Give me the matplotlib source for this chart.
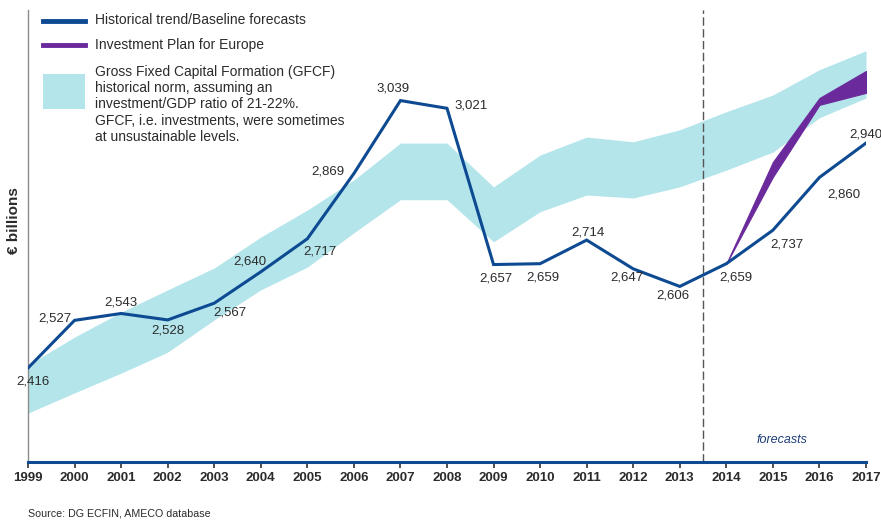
import matplotlib.pyplot as plt
from matplotlib.lines import Line2D
from matplotlib.patches import Rectangle

plt.rcParams["font.family"] = ["Liberation Sans", "DejaVu Sans"]

# EU gross fixed capital formation, EUR billions
years = list(range(1999, 2018))
gfcf = [2416, 2527, 2543, 2528, 2567, 2640, 2717, 2869, 3039, 3021,
        2657, 2659, 2714, 2647, 2606, 2659, 2737, 2860, 2940]

# historical norm band (21-22% of GDP)
norm_low = [2311, 2358, 2404, 2453, 2528, 2598, 2651, 2731, 2808, 2808,
            2710, 2780, 2819, 2812, 2838, 2877, 2919, 2999, 3045]
norm_high = [2423, 2488, 2546, 2598, 2649, 2721, 2784, 2854, 2940, 2940,
             2838, 2912, 2954, 2943, 2971, 3013, 3052, 3111, 3155]

# Investment Plan for Europe scenario
plan_years = [2014, 2015, 2016, 2017]
plan_low = [2659, 2861, 3029, 3057]
plan_high = [2659, 2896, 3045, 3108]

# label offsets in pixels (dx, dy)
label_offsets = [(5, -14), (-20, 2), (0, 11), (0, -11), (16, -9), (-11, 10),
                 (13, -13), (-26, 2), (-7, 12), (24, 3), (2, -14), (3, -14),
                 (1, 8), (-6, -9), (-7, -9), (10, -14), (14, -14), (24, -17),
                 (0, 9)]

BLUE = "#0d4a92"
PURPLE = "#6b2a9c"
CYAN = "#b3e5eb"
TEXT = "#2b2b2b"

W, H = 881, 520
fig = plt.figure(figsize=(W / 100, H / 100), dpi=100)
ax = fig.add_axes([28 / W, 1 - 462 / H, (866 - 28) / W, (462 - 10) / H])

ax.fill_between(years, norm_low, norm_high, color=CYAN, lw=0, zorder=1)
ax.fill_between(plan_years, plan_low, plan_high, color=PURPLE, lw=0.8,
                edgecolor=PURPLE, zorder=2)
ax.plot(years, gfcf, color=BLUE, lw=2.2, solid_joinstyle="miter", zorder=3)

for x, v, (dx, dy) in zip(years, gfcf, label_offsets):
    ax.annotate(f"{v:,}", (x, v), xytext=(dx, dy), textcoords="offset pixels",
                ha="center", va="center", fontsize=9.5, color=TEXT,
                annotation_clip=False, zorder=4)

ax.axvline(2013.5, color="#555555", lw=1, ls=(0, (6, 2.5)), zorder=2)
ax.text(2015.2, 2248, "forecasts", fontsize=9, style="italic", color="#1f3f7a",
        ha="center", va="center")

ax.set_xlim(1999, 2017)
ax.set_ylim(2197, 3250)
ax.set_xticks(years)
ax.set_xticklabels([str(y) for y in years], fontsize=9.5, fontweight="bold",
                   color=TEXT)
ax.tick_params(axis="x", direction="out", length=4, width=1.2, color="#333333",
               pad=3)
ax.set_yticks([])
for side in ("top", "right"):
    ax.spines[side].set_visible(False)
ax.spines["left"].set_color("#8c8c8c")
ax.spines["left"].set_linewidth(1)
ax.spines["bottom"].set_color(BLUE)
ax.spines["bottom"].set_linewidth(2.2)
ax.set_ylabel("€ billions", fontsize=11, fontweight="bold", color=TEXT)
ax.yaxis.set_label_coords(-0.008, 0.535)

# legend drawn by hand in figure pixels
def fx(px):
    return px / W


def fy(py):
    return 1 - py / H


fig.add_artist(Line2D([fx(43), fx(85)], [fy(21), fy(21)], color=BLUE, lw=3.5))
fig.add_artist(Line2D([fx(43), fx(85)], [fy(45), fy(45)], color=PURPLE, lw=3.5))
fig.add_artist(Rectangle((fx(43), fy(109)), fx(85) - fx(43), fy(74) - fy(109),
                         transform=fig.transFigure, color=CYAN, lw=0))
fig.text(fx(95), fy(20), "Historical trend/Baseline forecasts", fontsize=10,
         color=TEXT, va="center")
fig.text(fx(95), fy(45), "Investment Plan for Europe", fontsize=10,
         color=TEXT, va="center")
fig.text(fx(95), fy(65),
         "Gross Fixed Capital Formation (GFCF)\n"
         "historical norm, assuming an\n"
         "investment/GDP ratio of 21-22%.\n"
         "GFCF, i.e. investments, were sometimes\n"
         "at unsustainable levels.",
         fontsize=10, color=TEXT, va="top", linespacing=1.2)

fig.text(fx(28), fy(514), "Source: DG ECFIN, AMECO database", fontsize=7.7,
         color=TEXT, va="center")

fig.savefig("out.png", dpi=100)
